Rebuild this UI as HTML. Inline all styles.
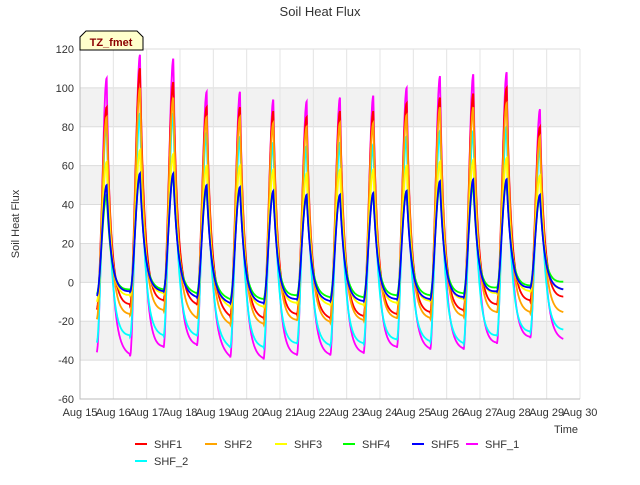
<!DOCTYPE html>
<html><head><meta charset="utf-8"><style>
body{margin:0;background:#fff;font-family:"Liberation Sans",sans-serif;}
</style></head><body>
<svg id="c" width="640" height="480" xmlns="http://www.w3.org/2000/svg" font-family="Liberation Sans, sans-serif">
<text x="320" y="16" text-anchor="middle" font-size="13" fill="#333">Soil Heat Flux</text>
<g id="bands"></g><g id="grid"></g><g id="series"></g><g id="axes"></g>
<text x="19" y="224" transform="rotate(-90 19 224)" text-anchor="middle" font-size="11" fill="#333">Soil Heat Flux</text>
<text x="578" y="433" text-anchor="end" font-size="11" fill="#333">Time</text>
<g>
<path d="M80,50 L80,37 L86,31 L137,31 L143,37 L143,50 Z" fill="#ffffcc" stroke="#000" stroke-width="1"/>
<text x="111" y="46" text-anchor="middle" font-size="11" font-weight="bold" fill="#8b0000">TZ_fmet</text>
</g>
<g id="legend"></g>
</svg>
<script>
const NS="http://www.w3.org/2000/svg";
const xTicks=["Aug 15","Aug 16","Aug 17","Aug 18","Aug 19","Aug 20","Aug 21","Aug 22","Aug 23","Aug 24","Aug 25","Aug 26","Aug 27","Aug 28","Aug 29","Aug 30"];
const yTicks=[-60,-40,-20,0,20,40,60,80,100,120];
const seriesNames=["SHF1","SHF2","SHF3","SHF4","SHF5","SHF_1","SHF_2"];
const seriesColors=["#ff0000","#ffa500","#ffff00","#00ff00","#0000ff","#ff00ff","#00ffff"];
const peakSHF1=[90,110,103,90,90,88,85,88,88,92,95,97,100,80];
const lowSHF1=[-14,-12,-10,-12,-18,-19,-17,-19,-18,-17,-16,-15,-12,-10,-8];
const peakSHF2=[85,100,95,85,85,82,80,82,82,86,90,90,92,75];
const lowSHF2=[-19,-17,-15,-19,-22,-22,-20,-21,-20,-19,-19,-18,-16,-16,-16];
const peakSHF3=[62,68,66,60,60,58,56,58,58,60,62,63,64,55];
const lowSHF3=[-10,-7,-6,-8,-13,-13,-11,-12,-12,-11,-10,-9,-6,-5,-4];
const peakSHF4=[45,55,55,48,48,46,44,45,45,47,50,50,52,44];
const lowSHF4=[-6,-4,-4,-6,-9,-9,-7,-8,-8,-7,-7,-6,-3,-2,0];
const peakSHF5=[50,56,56,50,49,47,45,45,46,47,52,53,53,45];
const lowSHF5=[-7,-5,-5,-8,-11,-11,-9,-10,-10,-9,-9,-8,-5,-3,-4];
const peakSHF_1=[105,117,115,98,98,94,93,95,96,100,106,107,108,89];
const lowSHF_1=[-36,-38,-34,-33,-39,-40,-38,-38,-37,-34,-35,-35,-32,-29,-30];
const peakSHF_2=[82,87,87,77,75,72,70,72,71,75,78,78,80,70];
const lowSHF_2=[-31,-28,-28,-28,-34,-34,-32,-33,-32,-30,-31,-32,-28,-26,-25];
const peaks=[peakSHF1,peakSHF2,peakSHF3,peakSHF4,peakSHF5,peakSHF_1,peakSHF_2];
const lows=[lowSHF1,lowSHF2,lowSHF3,lowSHF4,lowSHF5,lowSHF_1,lowSHF_2];
const X0=80,X1=580,Y0=399,Y1=49;
const xs=d=>X0+(d)/15*(X1-X0);
const ys=v=>Y0-(v+60)/180*(Y0-Y1);
function mk(t,a,p){const e=document.createElementNS(NS,t);for(const k in a)e.setAttribute(k,a[k]);p.appendChild(e);return e;}
const bands=document.getElementById('bands');
[[80,100],[40,60],[0,20],[-40,-20]].forEach(b=>{
 const r=mk('rect',{x:X0,y:ys(b[1]),width:X1-X0,height:ys(b[0])-ys(b[1]),fill:'#f2f2f2'},bands);
 
 
});
const grid=document.getElementById('grid'),axes=document.getElementById('axes');
yTicks.forEach(v=>{
 const l=mk('line',{x1:X0,x2:X1,y1:ys(v),y2:ys(v),stroke:'#dcdcdc','stroke-width':1},grid);
 
 
 const t=mk('text',{x:X0-6,y:ys(v)+4,'text-anchor':'end','font-size':11,fill:'#333'},axes);
 t.textContent=v;
 
 
});
xTicks.forEach((s,i)=>{
 const l=mk('line',{x1:xs(i),x2:xs(i),y1:Y1,y2:Y0,stroke:'#e4e4e4','stroke-width':1},grid);
 
 
 const t=mk('text',{x:xs(i),y:Y0+17,'text-anchor':'middle','font-size':11,fill:'#333'},axes);
 t.textContent=s;
 
 
});
const ax=mk('path',{d:`M${X0},${Y1} L${X0},${Y0} L${X1},${Y0}`,fill:'none',stroke:'#bbb','stroke-width':1},axes);


const sg=document.getElementById('series');
[5,6,0,1,2,3,4].forEach(si=>{
 const pk=peaks[si],lo=lows[si];let d='';
 for(let t=0.5;t<=14.5;t+=0.01){
  const q=t-0.5;const k=Math.floor(q);let p=q-k;
  const ki=Math.max(0,Math.min(13,k));const l0=lo[Math.max(0,Math.min(14,k))],l1=lo[Math.max(0,Math.min(14,k+1))];
  let v;
  const R=0.3;
  if(p<R){const a=Math.sin(Math.PI/2*p/R);v=l0+(pk[ki]-l0)*a*a;}
  else{const lb=l0+(l1-l0)*(p-R)/(1-R);v=lb+(pk[ki]-lb)*Math.exp(-(p-R)*7);}
  d+=(d?'L':'M')+xs(t).toFixed(1)+','+ys(v).toFixed(1);
 }
 const path=mk('path',{d:d,fill:'none',stroke:seriesColors[si],'stroke-width':1.8},sg);
 
 
});
const lg=document.getElementById('legend');
const pos=[[135,444],[205,444],[275,444],[343,444],[412,444],[466,444],[135,461]];
seriesNames.forEach((n,i)=>{
 const g=mk('g',{},lg);
 
 
 mk('line',{x1:pos[i][0],x2:pos[i][0]+12,y1:pos[i][1],y2:pos[i][1],stroke:seriesColors[i],'stroke-width':2},g);
 const t=mk('text',{x:pos[i][0]+19,y:pos[i][1]+4,'font-size':11,fill:'#333'},g);
 t.textContent=n;
});
</script>
</body></html>
